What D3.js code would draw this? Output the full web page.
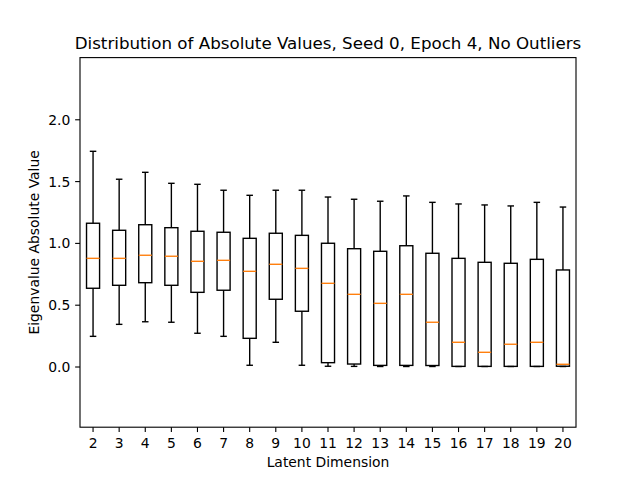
<!DOCTYPE html>
<html><head><meta charset="utf-8">
<script src="https://cdn.jsdelivr.net/npm/d3@7"></script>
<style>body{margin:0;background:#fff}svg{display:block}text{font-family:"DejaVu Sans",sans-serif;fill:#000}</style>
</head><body><svg id="c" width="640" height="480"></svg>
<script>
const categories = ["2","3","4","5","6","7","8","9","10","11","12","13","14","15","16","17","18","19","20"];
const whiskerHigh = [1.741,1.515,1.571,1.482,1.474,1.426,1.385,1.426,1.426,1.371,1.353,1.337,1.380,1.328,1.315,1.307,1.299,1.328,1.290];
const q3Values    = [1.159,1.102,1.147,1.123,1.094,1.086,1.037,1.078,1.061,0.997,0.953,0.932,0.977,0.916,0.875,0.843,0.835,0.867,0.781];
const medians     = [0.875,0.875,0.900,0.892,0.851,0.859,0.770,0.827,0.794,0.673,0.584,0.511,0.584,0.358,0.196,0.115,0.180,0.196,0.018];
const q1Values    = [0.633,0.657,0.678,0.657,0.600,0.617,0.228,0.544,0.447,0.031,0.020,0.009,0.009,0.008,0.001,0.001,0.001,0.001,0.002];
const whiskerLow  = [0.244,0.341,0.362,0.358,0.269,0.244,0.010,0.196,0.010,0.002,0.001,0.000,0.000,0.000,0.000,0.000,0.000,0.000,0.000];
const yTicks = [0.0,0.5,1.0,1.5,2.0];
const yDomain = [-0.491, 2.499];

const W=640,H=480, L=80, R=576, T=57.6, B=427.2;
const svg = d3.select("#c");
const data = categories.map((c,i)=>({c,hi:whiskerHigh[i],q3:q3Values[i],med:medians[i],q1:q1Values[i],lo:whiskerLow[i]}));

const x = d3.scaleBand().domain(categories).range([L,R]).paddingInner(0).paddingOuter(0);
const y = d3.scaleLinear().domain(yDomain).range([B,T]);
const bw = x.bandwidth()*0.5, cw = x.bandwidth()*0.25;
const lw = 1.39;

const g = svg.append("g");
data.forEach(d=>{
  const cx = x(d.c)+x.bandwidth()/2;
  g.append("line").attr("x1",cx).attr("x2",cx).attr("y1",y(d.q3)).attr("y2",y(d.hi)).attr("stroke","#000").attr("stroke-width",lw);
  g.append("line").attr("x1",cx).attr("x2",cx).attr("y1",y(d.q1)).attr("y2",y(d.lo)).attr("stroke","#000").attr("stroke-width",lw);
  g.append("line").attr("x1",cx-cw/2).attr("x2",cx+cw/2).attr("y1",y(d.hi)).attr("y2",y(d.hi)).attr("stroke","#000").attr("stroke-width",lw);
  g.append("line").attr("x1",cx-cw/2).attr("x2",cx+cw/2).attr("y1",y(d.lo)).attr("y2",y(d.lo)).attr("stroke","#000").attr("stroke-width",lw);
  g.append("rect").attr("x",cx-bw/2).attr("width",bw).attr("y",y(d.q3)).attr("height",y(d.q1)-y(d.q3))
    .attr("fill","none").attr("stroke","#000").attr("stroke-width",lw);
  g.append("line").attr("x1",cx-bw/2).attr("x2",cx+bw/2).attr("y1",y(d.med)).attr("y2",y(d.med)).attr("stroke","#ff7f0e").attr("stroke-width",lw);
});

svg.append("rect").attr("x",L).attr("y",T).attr("width",R-L).attr("height",B-T).attr("fill","none").attr("stroke","#000").attr("stroke-width",1.11);

const xAxis = d3.axisBottom(x).tickSize(4.86).tickPadding(3.6);
const xg = svg.append("g").attr("transform",`translate(0,${B})`).call(xAxis);
const yAxis = d3.axisLeft(y).tickValues(yTicks).tickFormat(d3.format(".1f")).tickSize(4.86).tickPadding(4.86);
const yg = svg.append("g").attr("transform",`translate(${L},0)`).call(yAxis);
[xg,yg].forEach(a=>{
  a.select(".domain").remove();
  a.selectAll(".tick line").attr("stroke","#000").attr("stroke-width",1.11);
  a.selectAll(".tick text").attr("font-family","DejaVu Sans").attr("font-size","13.9px").attr("fill","#000");
});
xg.selectAll(".tick text").attr("dy",null).attr("y",20.5);
yg.selectAll(".tick text").attr("dy","0.36em");

svg.append("text").attr("x",(L+R)/2).attr("y",49.3).attr("text-anchor","middle").attr("font-size","16.7px")
  .text("Distribution of Absolute Values, Seed 0, Epoch 4, No Outliers");
svg.append("text").attr("x",(L+R)/2).attr("y",466.6).attr("text-anchor","middle").attr("font-size","13.9px").text("Latent Dimension");
svg.append("text").attr("transform",`translate(39.3,${(T+B)/2}) rotate(-90)`).attr("text-anchor","middle").attr("font-size","13.9px").text("Eigenvalue Absolute Value");
</script></body></html>
